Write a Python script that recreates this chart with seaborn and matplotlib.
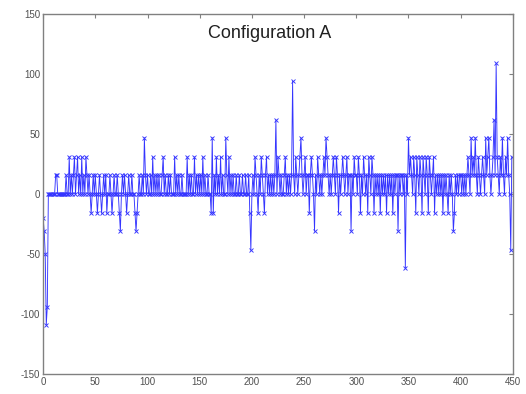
import numpy as np
import pandas as pd
import matplotlib
matplotlib.use("Agg")
import matplotlib.pyplot as plt
import seaborn as sns

# sample values, in blocks of 10 samples (x = 0..449)
y_000 = [-20, -31, -50, -109, -94, 0, 0, 0, 0, 0,
         0, 0, 16, 16, 0, 0, 0, 0, 0, 0,
         0, 0, 16, 0, 0, 31, 0, 16, 0, 16,
         31, 0, 16, 31, 0, 16, 0, 31, 0, 16,
         0, 31, 16, 0, 16, 0, -16, 0, 16, 0]
y_050 = [16, 0, -16, 0, 16, 0, -16, 0, 16, 0,
         16, -16, 0, 0, 16, 0, -16, 0, 16, 0,
         0, 16, 0, -16, -31, 0, 16, 0, 16, 0,
         -16, 0, 16, 0, 0, 16, 0, 0, -16, -31,
         -16, 0, 16, 0, 0, 16, 0, 47, 16, 0]
y_100 = [16, 0, 0, 16, 0, 31, 0, 16, 0, 16,
         0, 16, 0, 0, 16, 31, 0, 16, 0, 0,
         16, 0, 16, 0, 0, 0, 31, 0, 16, 0,
         16, 0, 0, 16, 0, 0, 0, 0, 31, 0,
         16, 0, 16, 0, 0, 31, 0, 16, 0, 16]
y_150 = [0, 16, 0, 31, 0, 16, 0, 0, 16, 0,
         0, -16, 47, -16, 16, 0, 31, 0, 16, 0,
         31, 0, 16, 0, 0, 47, 16, 0, 31, 0,
         16, 0, 16, 0, 0, 16, 0, 0, 16, 0,
         0, 16, 0, 0, 16, 0, 0, 16, -16, -47]
y_200 = [0, 16, 0, 31, 16, 0, -16, 16, 0, 31,
         16, 0, -16, 16, 31, 0, 16, 0, 16, 0,
         16, 0, 16, 62, 0, 31, 16, 0, 16, 0,
         0, 16, 31, 0, 16, 0, 16, 0, 16, 94,
         16, 0, 31, 16, 0, 16, 31, 47, 16, 0]
y_250 = [16, 31, 0, 16, 16, -16, 16, 31, 16, 0,
         -31, 16, 0, 31, 16, 0, 16, 0, 16, 31,
         16, 47, 31, 16, 0, 16, 0, 16, 31, 16,
         0, 31, 16, -16, 16, 0, 16, 31, 16, 0,
         16, 31, 0, 16, 16, -31, 16, 0, 31, 16]
y_300 = [16, 0, 31, 16, -16, 16, 0, 31, 16, 0,
         16, -16, 31, 16, 0, 31, 16, -16, 16, 0,
         16, 0, 16, -16, 16, 0, 16, 0, 16, -16,
         16, 0, 16, 0, 16, -16, 16, 0, 16, 16,
         -31, 16, 0, 16, 16, 0, 16, -62, 16, 0]
y_350 = [47, 16, 31, 16, 0, 31, 16, -16, 31, 16,
         0, 31, 16, -16, 31, 16, 0, 31, 16, -16,
         31, 16, 0, 16, 31, -16, 16, 0, 16, 0,
         16, 0, 16, -16, 16, 0, 16, 0, -16, 16,
         0, 16, 0, -31, -16, 16, 0, 16, 0, 16]
y_400 = [16, 0, 16, 0, 16, 0, 16, 31, 16, 0,
         47, 16, 31, 16, 47, 16, 0, 31, 16, 0,
         16, 31, 16, 0, 47, 16, 31, 47, 16, 0,
         16, 31, 62, 16, 109, 31, 16, 0, 31, 16,
         47, 16, 0, 31, 16, 47, 16, 0, -47, 31]

values = y_000 + y_050 + y_100 + y_150 + y_200 + y_250 + y_300 + y_350 + y_400
df = pd.DataFrame({"sample": np.arange(len(values)), "value": values})

x_ticks = [0, 50, 100, 150, 200, 250, 300, 350, 400, 450]
y_ticks = [-150, -100, -50, 0, 50, 100, 150]

sns.set_style("white")
plt.rcParams["font.family"] = ["Liberation Sans", "DejaVu Sans"]
plt.rcParams["axes.unicode_minus"] = False

fig = plt.figure(figsize=(5.26, 3.94), dpi=100)
ax = fig.add_axes([0.082, 0.051, 0.893, 0.913])

sns.lineplot(data=df, x="sample", y="value", ax=ax, color="#3535ff",
             linewidth=0.65, marker="x", markersize=2.6, markeredgewidth=0.65,
             markeredgecolor="#3535ff")

ax.set_xlim(0, 450)
ax.set_ylim(-150, 150)
ax.set_xticks(x_ticks)
ax.set_yticks(y_ticks)
ax.set_xlabel("")
ax.set_ylabel("")
ax.tick_params(direction="in", top=True, right=True, length=3, width=0.8,
               color="#808080", labelsize=7, labelcolor="#505050", pad=2)
for s in ax.spines.values():
    s.set_color("#808080")
    s.set_linewidth(1.0)

ax.text(0.483, 0.947, "Configuration A", transform=ax.transAxes,
        ha="center", va="center", fontsize=13, color="#202020")

fig.savefig("out.png", dpi=100)
